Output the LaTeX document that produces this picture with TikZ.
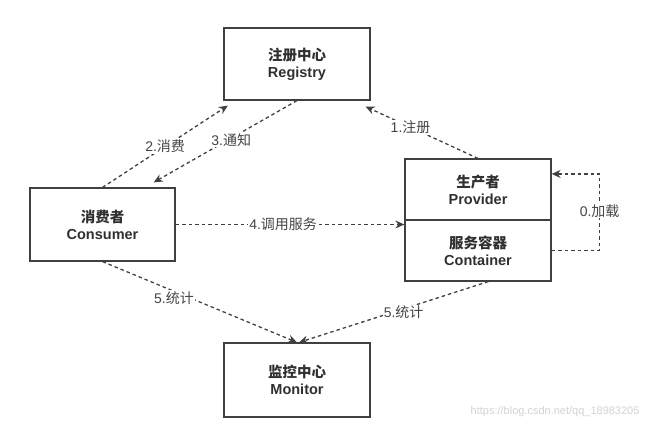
\documentclass[tikz,border=0pt]{standalone}
\usepackage{fontspec}
\setmainfont{Liberation Sans}
\newfontfamily\cjk{Noto Sans CJK SC}
\usepackage{xcolor}
\usetikzlibrary{positioning, calc, arrows.meta}
\definecolor{linegray}{HTML}{404040}
\definecolor{textgray}{HTML}{303030}

\begin{document}
\begin{tikzpicture}[x=1pt, y=-1pt,
    box/.style={draw=linegray, line width=1.2pt, minimum width=146pt, text=textgray, align=center, font=\fontsize{14.5}{17}\selectfont\bfseries},
    call/.style={draw=linegray, line width=1.3pt, dash pattern=on 3.5pt off 3pt, -{Stealth[length=9pt, width=8pt]}},
    lbl/.style={fill=white, text=textgray!90, inner sep=1pt, font=\fontsize{14}{16}\selectfont}]
    \useasboundingbox (0,0) rectangle (650,427);

    % the parties
    \node[box, minimum height=72pt] (reg) at (297,64) {{\cjk 注册中心}\\Registry};
    \node[box, minimum height=73pt, minimum width=145pt] (cons) at (102.5,224.5) {{\cjk 消费者}\\Consumer};
    \node[box, minimum height=61pt] (prov) at (478,189.5) {{\cjk 生产者}\\Provider};
    \node[box, minimum height=61pt, below=-1.2pt of prov] (cont) {{\cjk 服务容器}\\Container};
    \node[box, minimum height=74pt] (mon) at (297,380) {{\cjk 监控中心}\\Monitor};

    % calls between them
    \draw[call] (cons.north) -- node[lbl, pos=.5] {2.{\cjk 消费}} ($(reg.south west)!.03!(reg.south east)+(0,5)$);
    \draw[call] (reg.south) -- node[lbl, pos=.48, xshift=3pt] {3.{\cjk 通知}} ($(cons.north west)!.85!(cons.north east)+(0,-5)$);
    \draw[call] (prov.north) -- node[lbl, pos=.6] {1.{\cjk 注册}} ($(reg.south east)+(-5,6)$);
    \draw[call] (cont.east) -- ++(48,0) |- node[lbl, pos=.26] {0.{\cjk 加载}} ($(prov.north east)!.25!(prov.south east)$);
    \draw[call] (cons.east) -- node[lbl, pos=.47] {4.{\cjk 调用服务}} (cons.east -| cont.west);
    \draw[call] (cons.south) -- node[lbl, pos=.45, xshift=-16pt] {5.{\cjk 统计}} (mon.north);
    \draw[call] ($(cont.south west)!.57!(cont.south east)$) -- node[lbl, pos=.5, xshift=10pt] {5.{\cjk 统计}} ($(mon.north)+(2,0)$);

    \node[text=gray!35, anchor=east, font=\fontsize{11}{13}\selectfont] (wm) at (643,412) {https://blog.csdn.net/qq\_18983205};
\end{tikzpicture}
\end{document}
